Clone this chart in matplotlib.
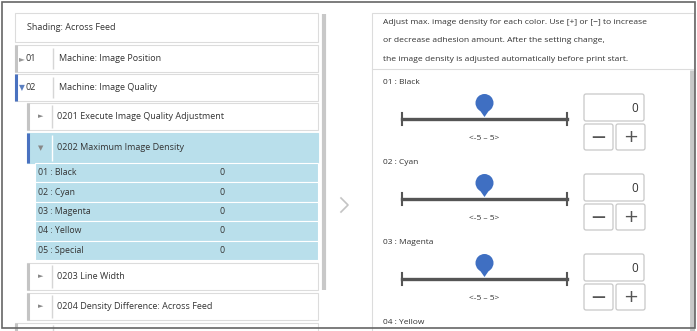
import matplotlib
matplotlib.use("Agg")
import matplotlib.pyplot as plt
from matplotlib import font_manager
from matplotlib.patches import Rectangle, FancyBboxPatch, Circle, Polygon

installed = {f.name for f in font_manager.fontManager.ttflist}
FONT = 'Liberation Sans Narrow' if 'Liberation Sans Narrow' in installed else 'Open Sans'
plt.rcParams['font.family'] = [FONT, 'DejaVu Sans']

# screen content
header_title = "Shading: Across Feed"
top_codes = ["01", "02"]
top_labels = ["Machine: Image Position", "Machine: Image Quality"]
sub_labels = ["0201 Execute Image Quality Adjustment", "0202 Maximum Image Density",
              "0203 Line Width", "0204 Density Difference: Across Feed"]
color_names = ["01 : Black", "02 : Cyan", "03 : Magenta", "04 : Yellow", "05 : Special"]
color_values = [0, 0, 0, 0, 0]
range_min, range_max = -5, 5
help_lines = ["Adjust max. image density for each color. Use [+] or [\u2212] to increase",
              "or decrease adhesion amount. After the setting change,",
              "the image density is adjusted automatically before print start."]

TXT = '#333333'
HL = '#b9dfeb'
BLUE = '#4a72c0'
EDGE = '#dcdcdc'

fig = plt.figure(figsize=(6.97, 3.31), dpi=100)
ax = fig.add_axes([0, 0, 1, 1])
ax.set_xlim(0, 697)
ax.set_ylim(331, 0)
ax.axis('off')


def box(x, y, w, h, fc='white', ec=EDGE, lw=0.8, z=1):
    ax.add_patch(Rectangle((x, y), w, h, fc=fc, ec=ec, lw=lw, zorder=z))


def vline(x, y0, y1, color, lw=1.0, z=3):
    ax.plot([x, x], [y0, y1], color=color, lw=lw, zorder=z, solid_capstyle='butt')


def txt(x, y, s, size=6.5, color=TXT, ha='left', **kw):
    ax.text(x, y, s, fontsize=size, color=color, ha=ha, va='center', zorder=5, clip_on=True, **kw)


# ---- left tree panel ----
box(15, 13, 303, 29)
txt(27, 27.5, header_title)

top_y = [45, 74]
for i, (code, label) in enumerate(zip(top_codes, top_labels)):
    y = top_y[i]
    box(15, y, 303, 27)
    cy = y + 13.5
    expanded = i == len(top_codes) - 1
    vline(16, y, y + 27, BLUE if expanded else '#c4c4c4', lw=2.2)
    txt(18.5, cy, '\u25bc' if expanded else '\u25ba', size=5.5,
        color='#5b7fc0' if expanded else '#999999', family='DejaVu Sans')
    txt(25, cy, code)
    vline(53, y + 3, y + 24, '#d6d6d6')
    txt(59, cy, label)

sub_y = [103, 133, 263, 293]
for i, (label, y) in enumerate(zip(sub_labels, sub_y)):
    open_row = i == 1
    h = 30 if open_row else 27
    box(27, y, 291, h, fc=HL if open_row else 'white', ec=HL if open_row else EDGE)
    cy = y + h / 2
    vline(28, y, y + h, BLUE if open_row else '#c4c4c4', lw=2.2)
    txt(38, cy, '\u25bc' if open_row else '\u25ba', size=5, color='#888888', family='DejaVu Sans')
    vline(52, y + 2, y + h - 2, 'white' if open_row else '#d6d6d6')
    txt(57, cy, label)

# expanded value rows
row_h = 19.4
for i, (name, val) in enumerate(zip(color_names, color_values)):
    y = 163 + i * row_h
    box(35, y, 283, row_h, fc=HL, ec='white', lw=0.8)
    txt(38, y + row_h / 2, name, size=6.3)
    txt(220, y + row_h / 2, str(val), size=6.3)

# partly visible next row
box(15, 323, 303, 20)
vline(16, 323, 331, '#c4c4c4', lw=2.2)
vline(53, 325, 331, '#d6d6d6')

# left scrollbar
vline(324, 14, 290, '#c8c8c8', lw=3, z=2)

# middle chevron
ax.plot([341, 348, 341], [198, 205, 212], color='#c4c4c4', lw=1.2, zorder=3)

# ---- right detail panel ----
box(372, 13, 322, 330)
for i, line in enumerate(help_lines):
    txt(383, 22 + i * 18.7, line, size=6.1)
ax.plot([372, 694], [69, 69], color=EDGE, lw=0.8, zorder=2)
vline(692, 70, 331, '#c8c8c8', lw=3.5, z=2)

x0, x1 = 402, 567
for i, (name, val) in enumerate(zip(color_names, color_values)):
    base = 83 + 80 * i
    if base > 331:
        continue
    txt(383, base, name, size=6.0)
    if base + 67 > 331:
        continue  # rest of this block is scrolled out of view
    ty = base + 36
    ax.plot([x0, x1], [ty, ty], color='#555555', lw=2.4, zorder=3)
    for xe in (x0, x1):
        ax.plot([xe, xe], [ty - 6, ty + 6], color='#555555', lw=1.5, zorder=3)
    kx = x0 + (val - range_min) / (range_max - range_min) * (x1 - x0)
    ax.add_patch(Polygon([(kx - 7, base + 24), (kx + 7, base + 24), (kx, base + 34)],
                         fc='#3f6fc2', ec='none', zorder=4))
    ax.add_patch(Circle((kx, base + 20), 9, fc='#3f6fc2', ec='none', zorder=4))
    txt(kx, base + 56, f"<{range_min} \u2013 {range_max}>", size=6.0, ha='center')
    ax.add_patch(FancyBboxPatch((584, base + 11), 60, 27, boxstyle='round,pad=0,rounding_size=2',
                                fc='white', ec='#c8c8c8', lw=0.9, zorder=3))
    txt(638, base + 25, str(val), size=8.5, ha='right')
    for bx, sym in ((584, '\u2014'), (616, '+')):
        ax.add_patch(FancyBboxPatch((bx, base + 41), 29, 26, boxstyle='round,pad=0,rounding_size=2',
                                    fc='white', ec='#c8c8c8', lw=0.9, zorder=3))
        txt(bx + 14.5, base + 54, sym, size=13 if sym == '+' else 10, color='#555555',
            ha='center', family='DejaVu Sans', fontweight='bold' if sym == '\u2014' else 'normal')

# outer frame
ax.add_patch(Rectangle((1.5, 1.5), 693.5, 326.5, fc='none', ec='#666666', lw=1.2, zorder=10))

fig.savefig('out.png', dpi=100)
